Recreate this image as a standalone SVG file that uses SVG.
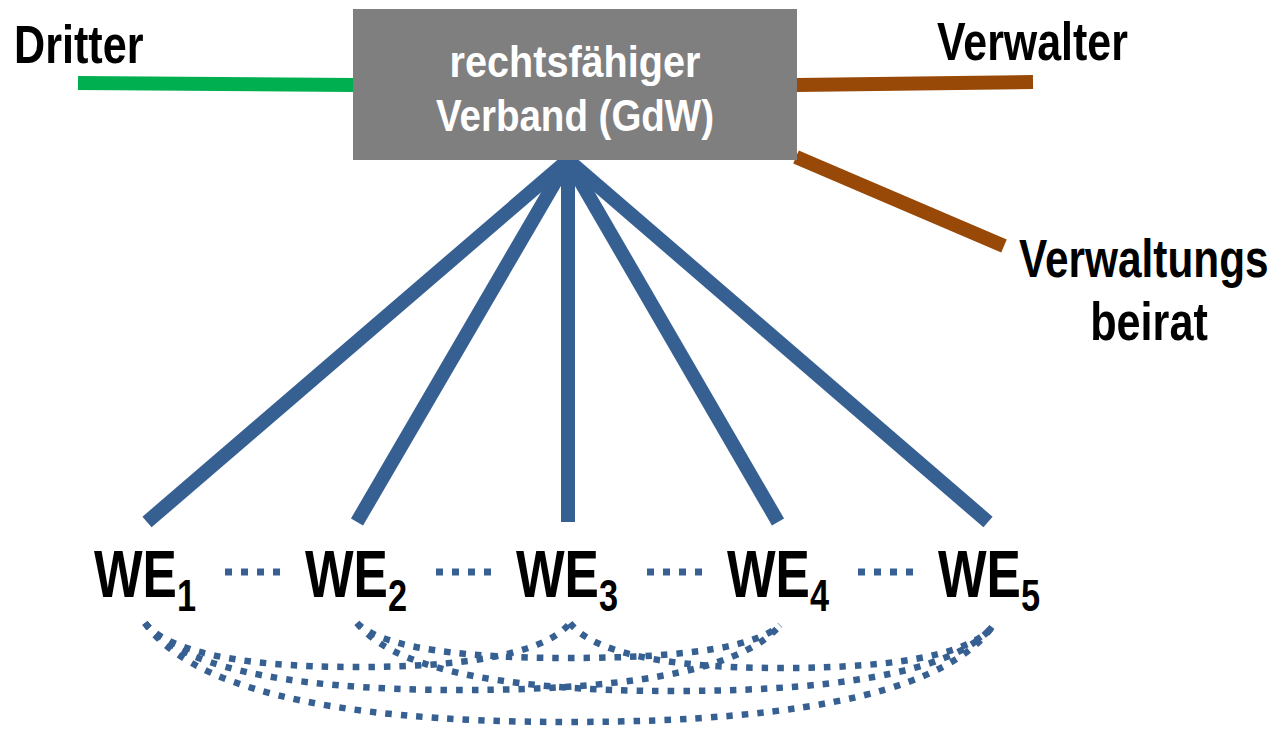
<svg xmlns="http://www.w3.org/2000/svg" width="1282" height="730" viewBox="0 0 1282 730">
<style>
.lbl{font-family:"Liberation Sans Narrow","Liberation Sans",Arial,sans-serif;font-weight:bold;fill:#000}
.box{fill:#7f7f7f}
.boxt{font-family:"Liberation Sans Narrow","Liberation Sans",Arial,sans-serif;font-weight:bold;font-size:44px;fill:#fff;text-anchor:middle}
.we{font-size:66px}
.sub{font-size:44px}
.side{font-size:54px}
.solid{fill:none;stroke-width:14;stroke-linecap:butt}
.blue{stroke:#376092}
.brown{stroke:#984807}
.green{stroke:#00b050}
.dot{fill:none;stroke:#376092;stroke-width:7;stroke-dasharray:7 9}
.arc{fill:none;stroke:#376092;stroke-width:6.5;stroke-dasharray:6.5 9}
</style>
<rect width="1282" height="730" fill="#fff"/>
<g id="connectors">
<line class="solid green" x1="78" y1="83" x2="354" y2="85"/>
<line class="solid brown" x1="796" y1="85" x2="1033" y2="82"/>
<line class="solid brown" x1="796" y1="157" x2="1004" y2="246"/>
<line class="solid blue" x1="568" y1="160" x2="147" y2="522"/>
<line class="solid blue" x1="568" y1="160" x2="357" y2="522"/>
<line class="solid blue" x1="568" y1="158" x2="568" y2="522"/>
<line class="solid blue" x1="568" y1="160" x2="778" y2="522"/>
<line class="solid blue" x1="568" y1="160" x2="988" y2="522"/>
<line class="dot" x1="225" y1="572" x2="281" y2="572"/>
<line class="dot" x1="436" y1="572" x2="492" y2="572"/>
<line class="dot" x1="647" y1="572" x2="703" y2="572"/>
<line class="dot" x1="858" y1="572" x2="914" y2="572"/>
<path class="arc" d="M145,623 C166,649 230,667 357,667 C485,667 549,649 570,623"/>
<path class="arc" d="M357,623 C378,644 442,658 568,658 C695,658 759,645 780,625"/>
<path class="arc" d="M570,623 C591,650 655,668 781,668 C908,668 971,652 992,627"/>
<path class="arc" d="M145,623 C177,663 272,690 462,690 C653,690 748,664 780,625"/>
<path class="arc" d="M357,623 C389,664 484,691 674,691 C865,691 960,665 992,627"/>
<path class="arc" d="M145,623 C187,683 314,722 568,722 C823,722 950,685 992,627"/>
</g>
<g id="verband">
<rect class="box" x="353" y="9" width="444" height="151"/>
<text class="boxt" transform="translate(575,77) scale(0.9,1)">rechtsfähiger</text>
<text class="boxt" transform="translate(575,131) scale(0.875,1)">Verband (GdW)</text>
</g>
<g id="dritter"><text class="lbl side" transform="translate(14,63) scale(0.8,1)">Dritter</text></g>
<g id="verwalter"><text class="lbl side" transform="translate(937,60) scale(0.795,1)">Verwalter</text></g>
<g id="beirat">
<text class="lbl side" transform="translate(1019,277) scale(0.785,1)">Verwaltungs</text>
<text class="lbl side" text-anchor="middle" transform="translate(1149,340) scale(0.8,1)">beirat</text>
</g>
<g id="we1"><text class="lbl we" transform="translate(94,597) scale(0.78,1)">WE<tspan class="sub" dy="14">1</tspan></text></g>
<g id="we2"><text class="lbl we" transform="translate(305,597) scale(0.78,1)">WE<tspan class="sub" dy="14">2</tspan></text></g>
<g id="we3"><text class="lbl we" transform="translate(516,597) scale(0.78,1)">WE<tspan class="sub" dy="14">3</tspan></text></g>
<g id="we4"><text class="lbl we" transform="translate(727,597) scale(0.78,1)">WE<tspan class="sub" dy="14">4</tspan></text></g>
<g id="we5"><text class="lbl we" transform="translate(938,597) scale(0.78,1)">WE<tspan class="sub" dy="14">5</tspan></text></g>
</svg>
